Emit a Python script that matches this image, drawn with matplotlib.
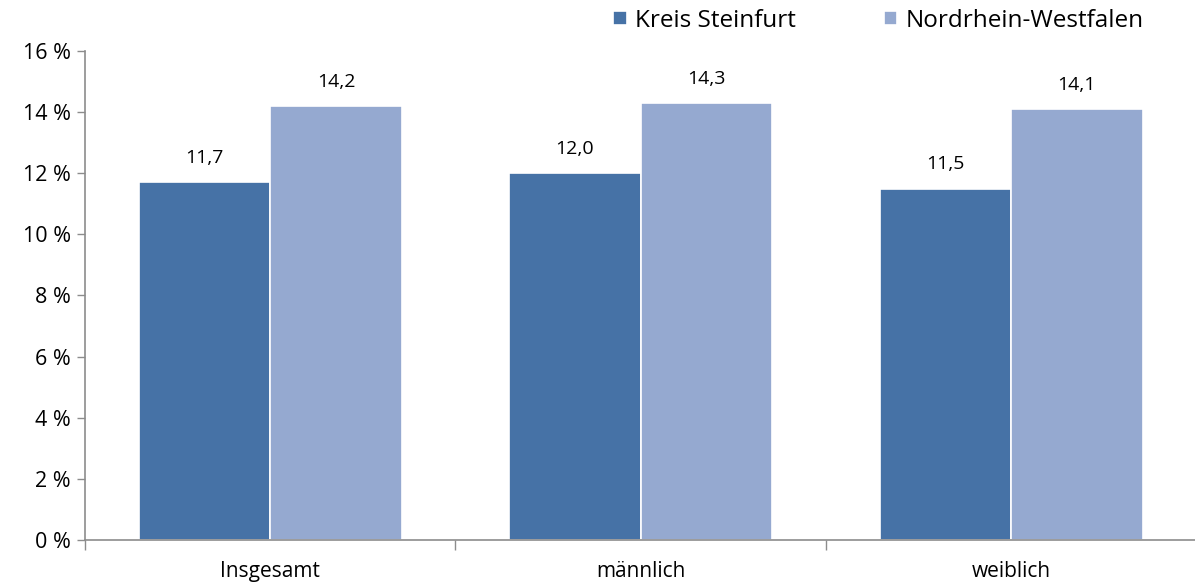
import numpy as np
import matplotlib
matplotlib.use("Agg")
import matplotlib.pyplot as plt
from matplotlib.ticker import FuncFormatter

plt.rcParams['font.family'] = ['Open Sans', 'DejaVu Sans']

categories = ["Insgesamt", "männlich", "weiblich"]
series_names = ["Kreis Steinfurt", "Nordrhein-Westfalen"]
kreis = [11.7, 12.0, 11.5]
nrw = [14.2, 14.3, 14.1]

dark = "#4672a6"
light = "#95a9d0"
axis_grey = "#8c8c8c"

fig = plt.figure(figsize=(11.95, 5.86), dpi=100)
ax = fig.add_axes([0.0711, 0.0785, 0.93, 0.8345])

x = np.arange(len(categories))
w = 0.355
b1 = ax.bar(x - w / 2, kreis, w, color=dark, edgecolor="white", linewidth=1.2, label=series_names[0])
b2 = ax.bar(x + w / 2, nrw, w, color=light, edgecolor="white", linewidth=1.2, label=series_names[1])

for bars, vals in ((b1, kreis), (b2, nrw)):
    for r, v in zip(bars, vals):
        ax.text(r.get_x() + r.get_width() / 2, v + 0.5, f"{v:.1f}".replace(".", ","),
                ha="center", va="bottom", fontsize=14, color="black")

ax.set_xlim(-0.5, len(categories) - 0.5)
ax.set_ylim(0, 16)
ax.set_yticks(np.arange(0, 17, 2))
ax.yaxis.set_major_formatter(FuncFormatter(lambda v, p: f"{v:.0f} %"))

# category labels between boundary ticks
ax.set_xticks(np.arange(-0.5, len(categories), 1.0))
ax.set_xticklabels([])
ax.set_xticks(x, minor=True)
ax.set_xticklabels(categories, minor=True)
ax.tick_params(axis="x", which="minor", length=0, pad=15, labelsize=15)
ax.tick_params(axis="x", which="major", length=7, color=axis_grey, width=1)
ax.tick_params(axis="y", length=6, color=axis_grey, width=1, labelsize=15.5, pad=4)

for s in ("top", "right"):
    ax.spines[s].set_visible(False)
for s in ("left", "bottom"):
    ax.spines[s].set_color(axis_grey)
    ax.spines[s].set_linewidth(1.2)

fig.legend(handles=[b1, b2], labels=series_names, loc="center right",
           bbox_to_anchor=(0.957, 0.965), ncol=2, frameon=False,
           fontsize=17.5, handlelength=0.55, handleheight=0.55, handletextpad=0.35,
           columnspacing=3.6, borderaxespad=0, borderpad=0)

fig.savefig("out.png", dpi=100)
